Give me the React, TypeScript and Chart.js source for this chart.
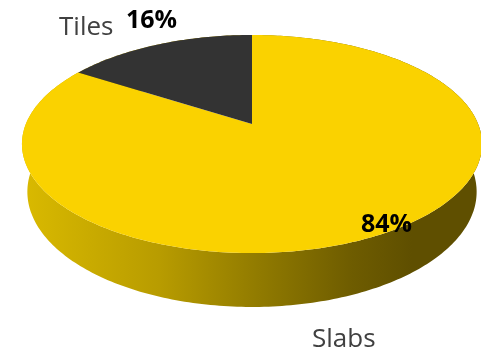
import React, { useEffect, useRef } from "react";
import { Chart, registerables } from "chart.js";

Chart.register(...registerables);

const categories = ["Slabs", "Tiles"];
const shares = [84, 16];
const sliceColors = ["#FAD200", "#333333"];

// 3D projection parameters (camera view of a tilted disc)
const VIEW = { cx: 252, cy: 124, K: 1090, D0: 4.82, cos: 0.885, sin: 0.466, H: 0.241 };

function proj(x: number, y: number, z: number): [number, number] {
  const depth = VIEW.D0 - y * VIEW.sin + z * VIEW.cos;
  return [VIEW.cx + (VIEW.K * x) / depth, VIEW.cy - (VIEW.K * (y * VIEW.cos + z * VIEW.sin)) / depth];
}
// chart.js angle a (screen, clockwise from +x) -> disc point
function rim(a: number, y: number): [number, number] {
  return proj(Math.cos(a), y, -Math.sin(a));
}

const pie3d = {
  id: "pie3d",
  beforeDatasetsDraw(chart: any) {
    const ctx = chart.ctx as CanvasRenderingContext2D;
    const meta = chart.getDatasetMeta(0);
    const arcs = meta.data as any[];
    ctx.save();
    // outer walls
    const grad = ctx.createLinearGradient(21, 0, 481, 0);
    grad.addColorStop(0, "#DABA00");
    grad.addColorStop(0.3, "#B89C00");
    grad.addColorStop(0.52, "#907A00");
    grad.addColorStop(0.72, "#6E5C00");
    grad.addColorStop(0.85, "#5F4F00");
    grad.addColorStop(1, "#5F4F00");
    arcs.forEach((arc) => {
      const { startAngle, endAngle } = arc.getProps(["startAngle", "endAngle"], true);
      const n = Math.max(8, Math.ceil((endAngle - startAngle) * 60));
      ctx.beginPath();
      for (let i = 0; i <= n; i++) {
        const a = startAngle + ((endAngle - startAngle) * i) / n;
        const [x, y] = rim(a, 0);
        i === 0 ? ctx.moveTo(x, y) : ctx.lineTo(x, y);
      }
      for (let i = n; i >= 0; i--) {
        const a = startAngle + ((endAngle - startAngle) * i) / n;
        const [x, y] = rim(a, -VIEW.H);
        ctx.lineTo(x, y);
      }
      ctx.closePath();
      ctx.fillStyle = grad;
      ctx.fill();
    });
    // top faces
    arcs.forEach((arc, idx) => {
      const { startAngle, endAngle } = arc.getProps(["startAngle", "endAngle"], true);
      const n = Math.max(8, Math.ceil((endAngle - startAngle) * 60));
      const c = proj(0, 0, 0);
      ctx.beginPath();
      ctx.moveTo(c[0], c[1]);
      for (let i = 0; i <= n; i++) {
        const a = startAngle + ((endAngle - startAngle) * i) / n;
        const [x, y] = rim(a, 0);
        ctx.lineTo(x, y);
      }
      ctx.closePath();
      ctx.fillStyle = sliceColors[idx];
      ctx.fill();
    });
    ctx.restore();
    return false;
  },
  afterDraw(chart: any) {
    const ctx = chart.ctx as CanvasRenderingContext2D;
    const data = chart.data.datasets[0].data as number[];
    const total = data.reduce((s, v) => s + v, 0);
    const pct = data.map((v) => Math.round((v / total) * 100) + "%");
    const labels = chart.data.labels as string[];
    ctx.save();
    ctx.textBaseline = "alphabetic";
    ctx.textAlign = "left";
    ctx.fillStyle = "#404040";
    ctx.font = '26px "Open Sans"';
    ctx.fillText(labels[1], 59, 35);
    ctx.fillText(labels[0], 312, 347);
    ctx.fillStyle = "#000000";
    ctx.font = 'bold 25px "Open Sans"';
    ctx.fillText(pct[1], 126, 28);
    ctx.fillText(pct[0], 361, 232);
    ctx.restore();
  },
};

export default function App() {
  const ref = useRef<HTMLCanvasElement>(null);
  useEffect(() => {
    document.body.style.margin = "0";
    const chart = new Chart(ref.current!, {
      type: "pie",
      data: {
        labels: categories,
        datasets: [{ data: shares, backgroundColor: sliceColors, borderWidth: 0 }],
      },
      options: {
        responsive: false,
        animation: false,
        events: [],
        plugins: { legend: { display: false }, tooltip: { enabled: false } },
      },
      plugins: [pie3d],
    });
    return () => chart.destroy();
  }, []);
  return (
    <div style={{ position: "absolute", left: 0, top: 0, width: 481, height: 352, background: "#fff" }}>
      <canvas ref={ref} width={481} height={352} style={{ display: "block", width: 481, height: 352 }} />
    </div>
  );
}
